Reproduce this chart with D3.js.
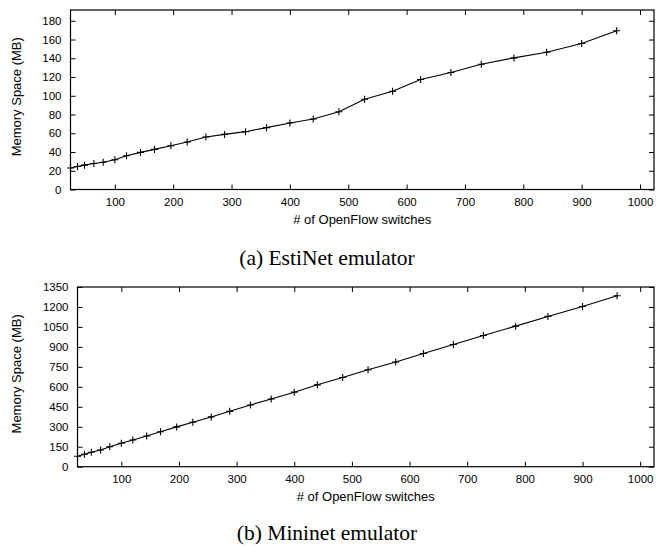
<!DOCTYPE html>
<html>
<head>
<meta charset="utf-8">
<script src="https://cdn.jsdelivr.net/npm/d3@7"></script>
<style>
  body { margin: 0; background: #fff; }
  svg { display: block; }
  .tick text { font-family: "Liberation Sans", Arial, sans-serif; font-size: 11.5px; fill: #000; }
  .tick line { stroke: #000; }
  .axis-label { font-family: "Liberation Sans", Arial, sans-serif; font-size: 13px; fill: #000; }
  .caption { font-family: "Liberation Serif", "Times New Roman", serif; font-size: 21.5px; fill: #000; }
</style>
</head>
<body>
<svg id="chart" width="657" height="546"></svg>
<script>
// number of switches (same for both runs)
var switches = [24, 36, 48, 64, 80, 100, 120, 144, 168, 196, 224, 256, 288, 324, 360,
                400, 440, 484, 528, 576, 624, 676, 728, 784, 840, 900, 960];
// memory space in MB
var estinetMem = [23, 24.6, 26, 27.8, 29, 31.7, 36, 39.6, 42.8, 46.7, 50.6, 56, 58.8, 61.7, 66,
                  71, 75.2, 83, 96.3, 104.8, 117.3, 124.8, 133.7, 140.4, 146.5, 155.8, 169.3];
var mininetMem = [78, 93, 108, 126, 150, 176, 201, 231, 263, 299, 334, 374, 416, 464, 509,
                  560, 615, 670, 728, 786, 850, 918, 986, 1056, 1129, 1204, 1284];

var xTicks = [100, 200, 300, 400, 500, 600, 700, 800, 900, 1000];
var estinetTicks = [0, 20, 40, 60, 80, 100, 120, 140, 160, 180];
var mininetTicks = [0, 150, 300, 450, 600, 750, 900, 1050, 1200, 1350];

var xLabel = "# of OpenFlow switches";
var yLabel = "Memory Space (MB)";

var svg = d3.select("#chart");

function panel(opts) {
  var x = d3.scaleLinear().domain([24, 1024]).range([opts.left, opts.right]);
  var y = d3.scaleLinear().domain(opts.yDomain).range([opts.bottom, opts.top]);
  var g = svg.append("g");

  g.append("g").attr("transform", "translate(0," + opts.bottom + ")")
    .call(d3.axisBottom(x).tickValues(xTicks).tickSize(-5).tickPadding(8.5).tickFormat(d3.format("d")));
  g.append("g").attr("transform", "translate(0," + opts.top + ")")
    .call(d3.axisTop(x).tickValues(xTicks).tickSize(-5).tickFormat(""));
  g.append("g").attr("transform", "translate(" + opts.left + ",0)")
    .call(d3.axisLeft(y).tickValues(opts.yTicks).tickSize(-5).tickPadding(9).tickFormat(d3.format("d")));
  g.append("g").attr("transform", "translate(" + opts.right + ",0)")
    .call(d3.axisRight(y).tickValues(opts.yTicks).tickSize(-5).tickFormat(""));
  g.selectAll(".domain").remove();

  g.append("rect")
    .attr("x", opts.left).attr("y", opts.top)
    .attr("width", opts.right - opts.left).attr("height", opts.bottom - opts.top)
    .attr("fill", "none").attr("stroke", "#000").attr("stroke-width", 1.2);

  var pts = switches.map(function(s, i) { return [s, opts.values[i]]; });
  g.append("path")
    .datum(pts)
    .attr("fill", "none").attr("stroke", "#000").attr("stroke-width", 1.1)
    .attr("d", d3.line().x(function(d) { return x(d[0]); }).y(function(d) { return y(d[1]); }));

  g.selectAll(".pt").data(pts).enter().append("path")
    .attr("class", "pt")
    .attr("transform", function(d) { return "translate(" + x(d[0]) + "," + y(d[1]) + ")"; })
    .attr("d", "M-3.5,0H3.5M0,-3.5V3.5")
    .attr("stroke", "#000").attr("stroke-width", 1.1);

  g.append("text").attr("class", "axis-label")
    .attr("x", (opts.left + opts.right) / 2).attr("y", opts.xLabelY)
    .attr("text-anchor", "middle").text(xLabel);
  g.append("text").attr("class", "axis-label")
    .attr("transform", "translate(21," + ((opts.top + opts.bottom) / 2 - 3) + ") rotate(-90)")
    .attr("text-anchor", "middle").text(yLabel);
  g.append("text").attr("class", "caption")
    .attr("x", 327).attr("y", opts.captionY)
    .attr("text-anchor", "middle").text(opts.caption);
}

panel({ left: 70.5, right: 654, top: 10, bottom: 189.5, yDomain: [0, 191.5],
        yTicks: estinetTicks, values: estinetMem,
        xLabelY: 224, captionY: 265, caption: "(a)  EstiNet emulator" });
panel({ left: 77.5, right: 654, top: 287, bottom: 466.7, yDomain: [0, 1350],
        yTicks: mininetTicks, values: mininetMem,
        xLabelY: 501, captionY: 540, caption: "(b)  Mininet emulator" });
</script>
</body>
</html>
